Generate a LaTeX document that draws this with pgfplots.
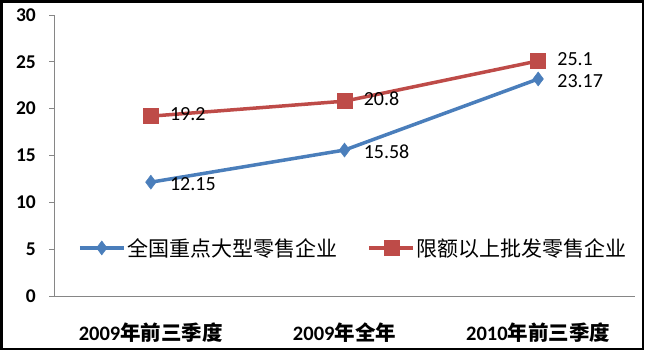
\documentclass[border=0pt]{standalone}
\usepackage{pgfplots}
\pgfplotsset{compat=1.18}
\usepackage{fontspec}
\setmainfont{Carlito}
\newfontfamily\cjk{Noto Sans CJK SC}
\definecolor{sblue}{HTML}{4A7EBB}
\definecolor{sred}{HTML}{BE4B48}
\definecolor{axgray}{HTML}{868686}
\begin{document}
\begin{tikzpicture}
\path[use as bounding box] (0bp,0bp) rectangle (653bp,355bp);
\draw[line width=2.5bp] (1.5bp,6bp) rectangle (643bp,353.5bp);
\begin{axis}[
  at={(54bp,59bp)}, anchor=south west,
  scale only axis, width=581bp, height=281bp,
  xmin=-0.5, xmax=2.5, ymin=0, ymax=30,
  axis x line=bottom, axis y line=left,
  axis line style={-, draw=axgray, line width=0.8bp},
  every tick/.style={draw=axgray, line width=0.8bp},
  tick align=outside,
  ytick={0,5,...,30},
  major tick length=5bp,
  xtick={0,1,2},
  x tick style={draw=none},
  minor xtick={-0.5,0.5,1.5,2.5},
  minor tick length=6bp,
  /pgf/number format/assume math mode=true,
  yticklabel style={font=\bfseries\fontsize{19.5bp}{22bp}\selectfont, inner sep=0pt, xshift=-13bp},
  xticklabel style={font=\bfseries\fontsize{20.5bp}{23bp}\selectfont, inner sep=0pt, yshift=-22bp},
  xticklabels={{2009{\cjk 年前三季度}},{2009{\cjk 年全年}},{2010{\cjk 年前三季度}}},
  clip=false,
  legend style={draw=none, fill=none, at={(0.041,0.171)}, anchor=west,
    font=\cjk\fontsize{21bp}{24bp}\selectfont, inner sep=0pt,
    /tikz/every even column/.append style={column sep=28bp}},
  legend columns=2,
  legend cell align=left,
  legend image code/.code={\draw[mark repeat=2,mark phase=2,#1] plot coordinates {(0bp,0bp) (22bp,0bp) (44bp,0bp)};},
  nodes near coords,
  every node near coord/.append style={anchor=west, inner sep=0pt, xshift=19bp, font=\fontsize{20bp}{24bp}\selectfont, text=black},
  point meta=explicit symbolic,
]
\addplot[color=sblue, line width=3.5bp, mark=diamond*, mark size=7bp, mark options={fill=sblue, draw=sblue, line width=0.5bp},
  every node near coord/.append style={yshift=-2bp}]
  coordinates {(0,12.15)[12.15] (1,15.58)[15.58] (2,23.17)[23.17]};
\addlegendentry{全国重点大型零售企业}
\addplot[color=sred, line width=3.5bp, mark=square*, mark size=7.5bp, mark options={fill=sred, draw=sred, line width=0.5bp},
  every node near coord/.append style={yshift=2bp}]
  coordinates {(0,19.2)[19.2] (1,20.8)[20.8] (2,25.1)[25.1]};
\addlegendentry{限额以上批发零售企业}
\end{axis}
\end{tikzpicture}
\end{document}
